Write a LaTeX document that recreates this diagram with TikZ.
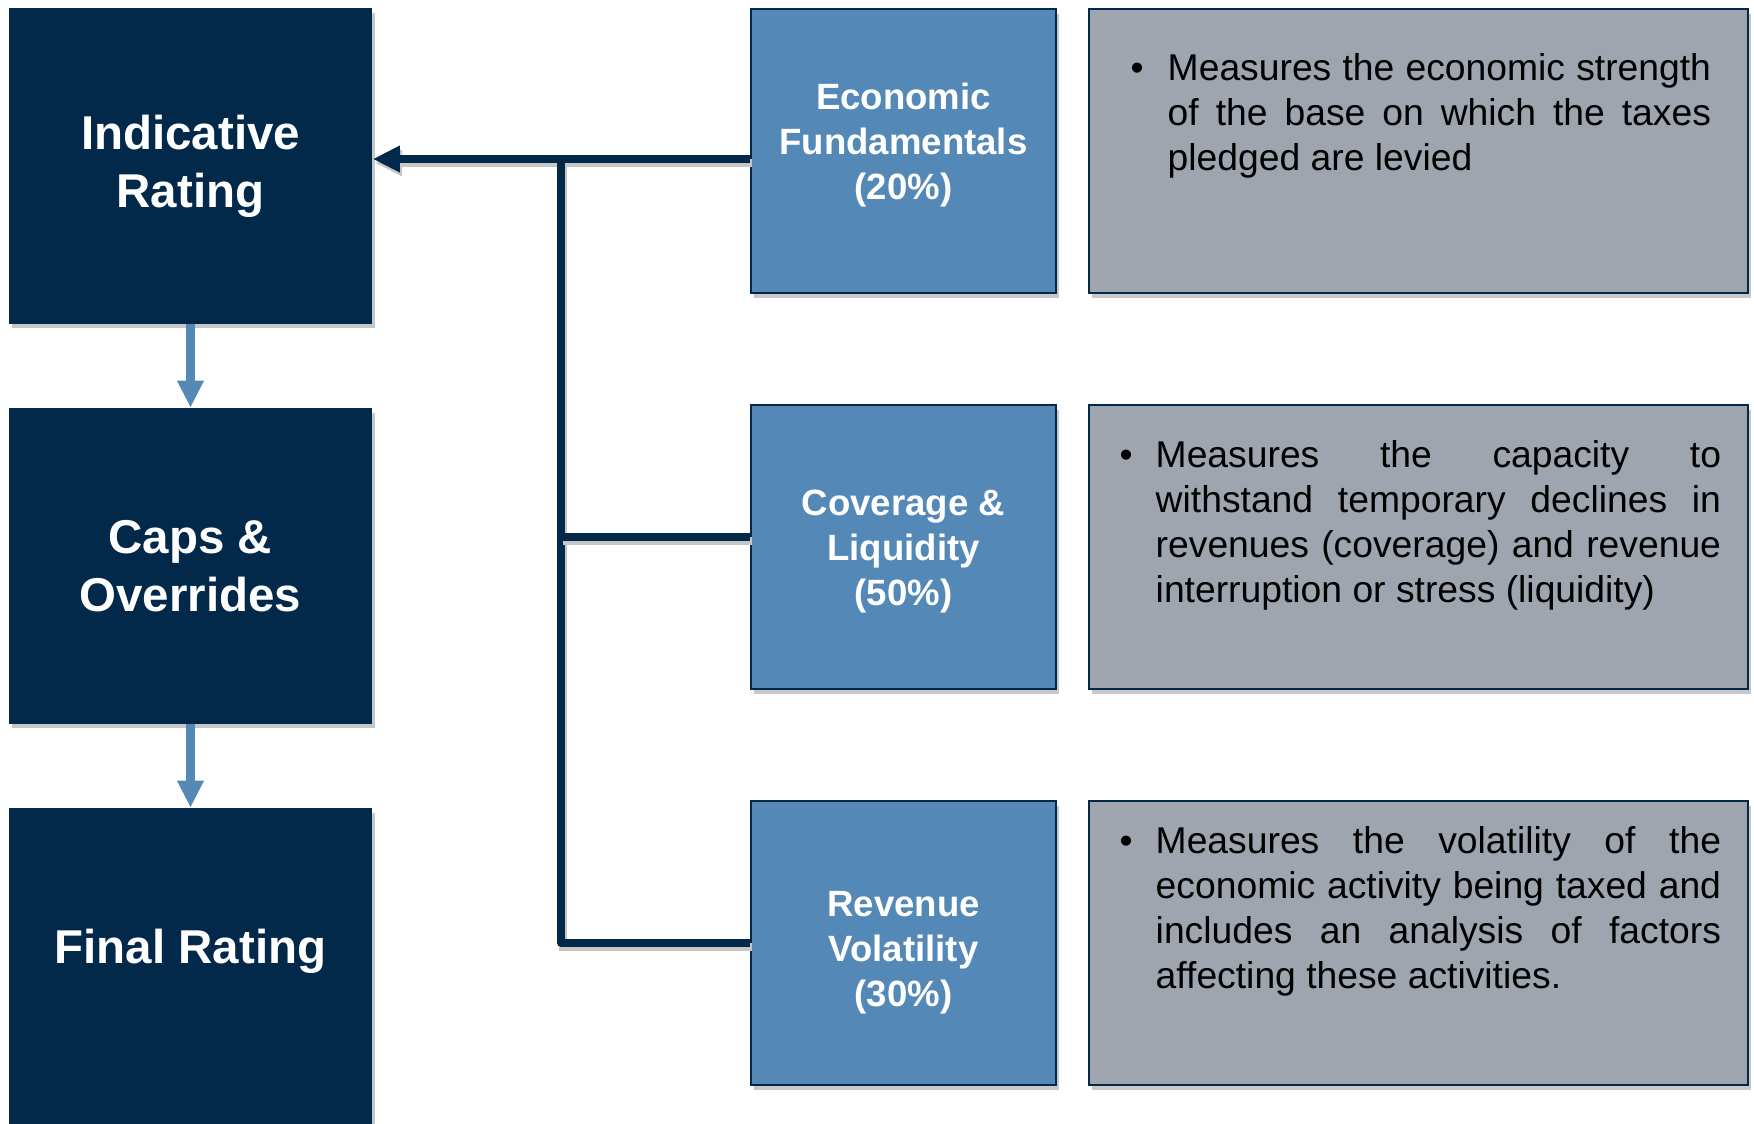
\documentclass[tikz,border=0pt]{standalone}
\usepackage{fontspec}
\setmainfont{Liberation Sans}
\usetikzlibrary{arrows.meta,shadows}

\definecolor{deepblue}{HTML}{02284A}
\definecolor{midblue}{HTML}{5489B7}
\definecolor{slate}{HTML}{9EA5AF}

\begin{document}
\begin{tikzpicture}[
x=0.01cm,y=-0.01cm,
boxshadow/.style={drop shadow={shadow xshift=0.8pt,shadow yshift=-1.3pt,opacity=0.22,fill=black}},
stage/.style={fill=deepblue,text=white,minimum width=3.63cm,minimum height=3.15cm,inner sep=0pt,
  align=center,font=\fontsize{13.5pt}{16.5pt}\selectfont\bfseries,boxshadow},
factor/.style={fill=midblue,draw=deepblue,line width=0.6pt,text=white,minimum width=3.05cm,
  minimum height=2.84cm,inner sep=0pt,align=center,font=\fontsize{10.4pt}{12.8pt}\selectfont\bfseries,boxshadow},
note/.style={fill=slate,draw=deepblue,line width=0.6pt,minimum width=6.59cm,minimum height=2.84cm,
  inner sep=0pt,boxshadow},
notetext/.style={anchor=base west,inner sep=0pt,font=\fontsize{10.6pt}{12.8pt}\selectfont},
link/.style={draw=deepblue,line width=2.3pt,line join=round,
  preaction={draw=black!22,line width=2.3pt,transform canvas={xshift=0.6pt,yshift=-1.1pt}}},
flow/.style={draw=midblue,line width=2.3pt,-{Triangle[length=7.7pt,width=7.1pt]}},
]
\useasboundingbox (0,0) rectangle (1754,1123);
\clip (0,0) rectangle (1754,1123);

% rating steps
\node[stage] (ind) at (190.5,166) {Indicative\\Rating};
\node[stage] (caps) at (190.5,566) {Caps \&\\Overrides};
\node[stage,text depth=11.4pt] (final) at (190.5,966) {Final Rating};

% weighted factors (struts nudge the text up or down a little)
\node[factor] (econ) at (903.5,151) {Economic\\Fundamentals\\(20\%)\rule[-5.4pt]{0pt}{5.4pt}};
\node[factor] (cov) at (903.5,547) {\rule{0pt}{10.1pt}Coverage \&\\Liquidity\\(50\%)};
\node[factor] (rev) at (903.5,943) {\rule{0pt}{12.6pt}Revenue\\Volatility\\(30\%)};

% descriptions
\node[note] (econnote) at (1418.5,151) {};
\node[note] (covnote) at (1418.5,547) {};
\node[note] (revnote) at (1418.5,943) {};

\node[notetext] (econtext) at (1130,80) {\makebox[0.37cm][l]{\textbullet}%
  \parbox[t]{5.43cm}{\tolerance=10000\hyphenpenalty=10000
  Measures the economic strength\linebreak
  of the base on which the taxes\linebreak pledged are levied}};
\node[notetext] (covtext) at (1119,467) {\makebox[0.36cm][l]{\textbullet}%
  \parbox[t]{5.65cm}{\tolerance=10000\hyphenpenalty=10000
  Measures the capacity to\linebreak
  withstand temporary declines in\linebreak revenues (coverage) and revenue\linebreak
  interruption or stress (liquidity)}};
\node[notetext] (revtext) at (1119,853) {\makebox[0.36cm][l]{\textbullet}%
  \parbox[t]{5.65cm}{\tolerance=10000\hyphenpenalty=10000
  Measures the volatility of the\linebreak
  economic activity being taxed and\linebreak includes an analysis of factors\linebreak
  affecting these activities.}};

% connectors
\coordinate (split) at (561,159);
\coordinate (tee) at (561,537);
\draw[link,-{Triangle[length=7.7pt,width=7.1pt]}] (split -| econ.west) -- (split -| ind.east);
\draw[link] (split) |- (rev.west);
\draw[link] (tee) -- (tee -| cov.west);

\draw[flow] (ind) -- (caps);
\draw[flow] (caps) -- (final);
\end{tikzpicture}
\end{document}
